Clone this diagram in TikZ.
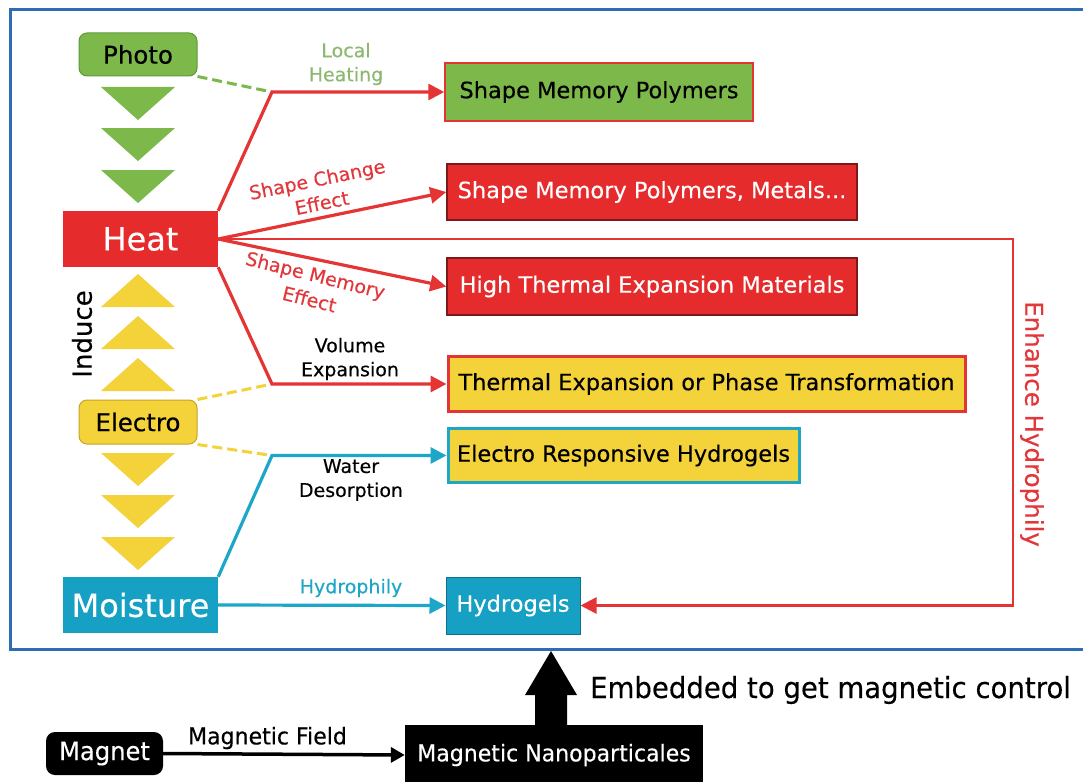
\documentclass[tikz,border=0pt]{standalone}
\usepackage{fontspec}
\setmainfont{DejaVu Sans}[FakeBold=0.3]
\newfontfamily\condf{DejaVu Sans}[FakeStretch=0.95,FakeBold=0.3]
\usetikzlibrary{arrows.meta,calc}
\definecolor{cgreen}{HTML}{7CB84A}
\definecolor{cgreenline}{HTML}{5E9A38}
\definecolor{cgreentxt}{HTML}{8DB86F}
\definecolor{cred}{HTML}{E52B2B}
\definecolor{credline}{HTML}{E53434}
\definecolor{credtxt}{HTML}{E2383C}
\definecolor{cdarkred}{HTML}{7A1A1A}
\definecolor{cyellow}{HTML}{F4D23A}
\definecolor{cyellowline}{HTML}{C9A227}
\definecolor{cteal}{HTML}{16A0C4}
\definecolor{ctealline}{HTML}{1CA6C8}
\definecolor{cframe}{HTML}{2E6DB4}
\begin{document}
\begin{tikzpicture}[x=1pt,y=-1pt,
  src/.style={inner sep=0, minimum width=155pt, minimum height=56pt, text=white, font=\fontsize{32}{38}\selectfont},
  pill/.style={rounded corners=8pt, inner sep=0, minimum width=118pt, minimum height=43pt, line width=1pt, font=\fontsize{24.5}{29}\selectfont},
  box/.style={inner sep=0, line width=1.5pt, font=\fontsize{22.5}{27}\selectfont},
  lbl/.style={align=center, inner sep=0, font=\fontsize{19}{24}\selectfont},
  conn/.style={line width=3.2pt},
  arr/.style={conn, -{Triangle[length=16pt,width=16pt]}},
  dsh/.style={line width=3pt, dash pattern=on 10pt off 5pt},
  btxt/.style={inner sep=0, font=\condf\fontsize{23.2}{28}\selectfont}
]
\useasboundingbox (0,0) rectangle (1083,781);
\fill[white] (0,0) rectangle (1083,781);
% frame
\draw[cframe, line width=3pt] (10,9.5) rectangle (1100,649.5);

% triangles
\foreach \y in {87,128,170} {\fill[cgreen] (101,\y) -- (175,\y) -- (138,\y+33) -- cycle;}
\foreach \y in {307,349,391} {\fill[cyellow] (101,\y) -- (175,\y) -- (138,\y-33) -- cycle;}
\foreach \y in {453,495,537} {\fill[cyellow] (101,\y) -- (175,\y) -- (138,\y+33) -- cycle;}

% source nodes
\node[pill, fill=cgreen, draw=cgreenline] (Photo) at (138,54.5) {Photo};
\node[src, fill=cred] (Heat) at (140.5,239) {Heat};
\node[pill, fill=cyellow, draw=cyellowline, minimum height=44pt] (Electro) at (138,422) {Electro};
\node[src, fill=cteal] (Moist) at (140.5,605) {Moisture};
\node[inner sep=0, rotate=90, font=\fontsize{26}{31}\selectfont] (Induce) at (82,334) {Induce};

% target boxes
\node[box, fill=cgreen, draw=credline, minimum width=308pt, minimum height=58pt, text=black] (SMP) at (599,92) {Shape Memory Polymers};
\node[box, fill=cred, draw=cdarkred, minimum width=410pt, minimum height=56pt, text=white] (SMPM) at (652,192) {Shape Memory Polymers, Metals...};
\node[box, fill=cred, draw=cdarkred, minimum width=410pt, minimum height=57pt, text=white] (HTEM) at (652,286.5) {High Thermal Expansion Materials};
\node[box, fill=cyellow, draw=credline, line width=3pt, minimum width=517pt, minimum height=55pt, text=black] (TEPT) at (706.5,384) {Thermal Expansion or Phase Transformation};
\node[box, fill=cyellow, draw=ctealline, line width=3pt, minimum width=351pt, minimum height=54pt, text=black] (ERH) at (623.5,455.5) {Electro Responsive Hydrogels};
\node[box, fill=cteal, draw=cteal!70!black, line width=1pt, minimum width=134pt, minimum height=57pt, text=white] (Hydro) at (513,605.5) {Hydrogels};

% junctions
\coordinate (J1) at (272,92);
\coordinate (J2) at (272,384);
\coordinate (J3) at (272,455.5);
\coordinate (R2) at (1013,605.5);

% dashed links
\draw[dsh, cgreen] (Photo.south east) -- (J1);
\draw[dsh, cyellow] (Electro.north east) -- (J2);
\draw[dsh, cyellow] (Electro.south east) -- (J3);

% red connectors
\draw[arr, credline] (Heat.north east) -- (J1) -- (SMP.west);
\draw[arr, credline] (Heat.east) -- (SMPM.west);
\draw[arr, credline] (Heat.east) -- (HTEM.west);
\draw[arr, credline] (Heat.south east) -- (J2) -- (TEPT.west);
\draw[arr, credline, line width=2.6pt] (Heat.east) -| (R2) -- (Hydro.east);
% teal connectors
\draw[arr, ctealline] (Moist.north east) -- (J3) -- (ERH.west);
\draw[arr, ctealline] (Moist.east) -- (Hydro.west);

% labels
\node[lbl, text=cgreentxt] (lLocal) at (346,64) {Local\\Heating};
\node[lbl, text=credtxt, rotate=11.5] (lChange) at (319.5,191) {Shape Change\\Effect};
\node[lbl, text=credtxt, rotate=-14] (lMemory) at (312.5,287) {Shape Memory\\[1pt]Effect};
\node[lbl] (lVolume) at (350,359) {Volume\\Expansion};
\node[lbl] (lWater) at (351,480) {Water\\Desorption};
\node[lbl, text=ctealline] (lHydro) at (351,588) {Hydrophily};
\node[inner sep=0, rotate=-90, text=credtxt, font=\fontsize{24.5}{29}\selectfont] (lEnh) at (1032,424) {Enhance Hydrophily};

% bottom part
\node[btxt, fill=black, text=white, rounded corners=9pt, minimum width=117pt, minimum height=43pt, font=\condf\fontsize{25.5}{30}\selectfont] (Magnet) at (104.5,753.5) {Magnet};
\node[btxt, fill=black, text=white, minimum width=298pt, minimum height=60pt] (Nano) at (554,755) {\raisebox{1.5pt}{Magnetic Nanoparticales}};
\draw[black, line width=3.5pt, -{Triangle[length=14pt,width=15pt]}] (Magnet.east) -- (Nano.west);
\node[btxt] (lField) at (267.5,738) {Magnetic Field};
\coordinate (BA) at (551,725);
\fill[black] ($(BA)+(-16,0)$) -- ++(0,-30) -- ++(-10,0) -- ($(BA)+(0,-74)$) -- ($(BA)+(26,-30)$) -- ++(-10,0) -- ++(0,30) -- cycle;
\node[btxt, anchor=west, font=\condf\fontsize{29}{34}\selectfont] (lEmb) at (590,690) {Embedded to get magnetic control};
\end{tikzpicture}
\end{document}
